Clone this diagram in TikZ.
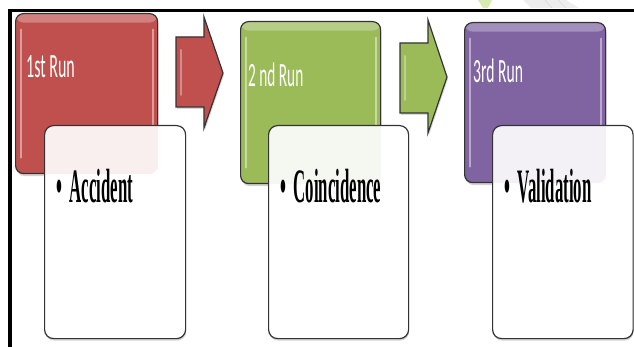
\documentclass[tikz,border=0pt]{standalone}
\usepackage{fontspec}
\usepackage{graphicx}
\newfontfamily\lblfont{Carlito}
\newfontfamily\bodyfont{Liberation Serif}
\usetikzlibrary{shadows}
\definecolor{runred}{HTML}{C0504D}
\definecolor{rungreen}{HTML}{9BBB59}
\definecolor{runpurple}{HTML}{8064A2}
\definecolor{edgecol}{HTML}{333333}
\definecolor{wmgreen}{HTML}{D6EBAE}
\definecolor{wmgray}{HTML}{EDEDED}
\tikzset{
  gloss/.style={path picture={
      \fill[white,opacity=0.28] (path picture bounding box.north west) rectangle ([yshift=-9pt]path picture bounding box.north east);
      \draw[white,opacity=0.45,line width=2.2pt,line cap=round] ([xshift=5pt,yshift=-16pt]path picture bounding box.north west) -- ([xshift=5pt,yshift=16pt]path picture bounding box.south west);
      \draw[white,opacity=0.45,line width=2.2pt,line cap=round] ([xshift=-5pt,yshift=-16pt]path picture bounding box.north east) -- ([xshift=-5pt,yshift=16pt]path picture bounding box.south east);
  }},
  runbox/.style={draw=edgecol, line width=1.2pt, rounded corners=8pt, inner sep=0pt,
    anchor=north west, fill=#1, gloss,
    drop shadow={shadow xshift=1pt,shadow yshift=-2.5pt,opacity=0.35}},
  notebox/.style 2 args={draw=edgecol, line width=1.2pt, rounded corners=9pt, inner sep=0pt,
    anchor=north west, fill=white,
    path picture={\fill[#1,opacity=0.09] (#2.north west) rectangle (#2.south east);},
    drop shadow={shadow xshift=0.5pt,shadow yshift=-2pt,opacity=0.35}},
  runlabel/.style={text=white, anchor=base west, inner sep=0pt,
    font=\lblfont\fontsize{34}{34}\selectfont},
  bullettext/.style={text=black, anchor=base west, inner sep=0pt,
    font=\bodyfont\bfseries\fontsize{48}{48}\selectfont},
  runarrow/.style={draw=edgecol, line width=1.2pt, fill=#1, line join=miter,
    drop shadow={shadow xshift=1pt,shadow yshift=-2pt,opacity=0.3}},
}
\begin{document}
\begin{tikzpicture}[x=1pt,y=-1pt]
\useasboundingbox (0,0) rectangle (634,347);
\fill[white] (0,0) rectangle (634,347);
% faint watermark at the top
\fill[wmgreen] (478,0) -- (492,0) -- (488,8) -- (483,8) -- cycle;
\fill[wmgray] (523,0) -- (566,0) -- (579,8) -- (531,8) -- cycle;
\draw[gray!30,line width=0.6pt] (545,0) -- (552,8) (558,0) -- (566,8);
% frame
\fill[black] (8,9) rectangle (634,12);
\fill[black] (8,9) rectangle (12,347);

% run boxes
\node[runbox=runred, minimum width=142pt, minimum height=160pt] (run1) at (15,13) {};
\node[runbox=rungreen, minimum width=140pt, minimum height=162pt] (run2) at (240,21) {};
\node[runbox=runpurple, minimum width=141pt, minimum height=160pt] (run3) at (464,22) {};

\node[runlabel] (lab1) at (26,78) {\scalebox{0.47}[1]{1st Run}};
\node[runlabel] (lab2) at (248,87) {\scalebox{0.45}[1]{2 nd Run}};
\node[runlabel] (lab3) at (473,83) {\scalebox{0.46}[1]{3rd Run}};

% arrows
\draw[runarrow=runred] (176,37) -- (204,37) -- (204,17) -- (223,73) -- (204,128) -- (204,107) -- (176,107) -- cycle;
\draw[white,opacity=0.35,line width=2pt,line cap=round] (181,50) -- (181,95);
\draw[runarrow=rungreen] (400,43) -- (428,43) -- (428,20) -- (447,77) -- (428,133) -- (428,113) -- (400,113) -- cycle;
\draw[white,opacity=0.35,line width=2pt,line cap=round] (405,56) -- (405,100);

% note boxes
\node[notebox={runred}{run1}, minimum width=141pt, minimum height=213pt] (note1) at (44,125) {};
\node[notebox={rungreen}{run2}, minimum width=140pt, minimum height=213pt] (note2) at (268,125) {};
\node[notebox={runpurple}{run3}, minimum width=140.5pt, minimum height=213pt] (note3) at (492,125) {};

\node[bullettext] (t1) at (56,203) {\scalebox{0.35}[1]{\textbullet\hspace{0.45em}Accident}};
\node[bullettext] (t2) at (280,203) {\scalebox{0.35}[1]{\textbullet\hspace{0.45em}Coincidence}};
\node[bullettext] (t3) at (504,203) {\scalebox{0.35}[1]{\textbullet\hspace{0.45em}Validation}};
\end{tikzpicture}
\end{document}
